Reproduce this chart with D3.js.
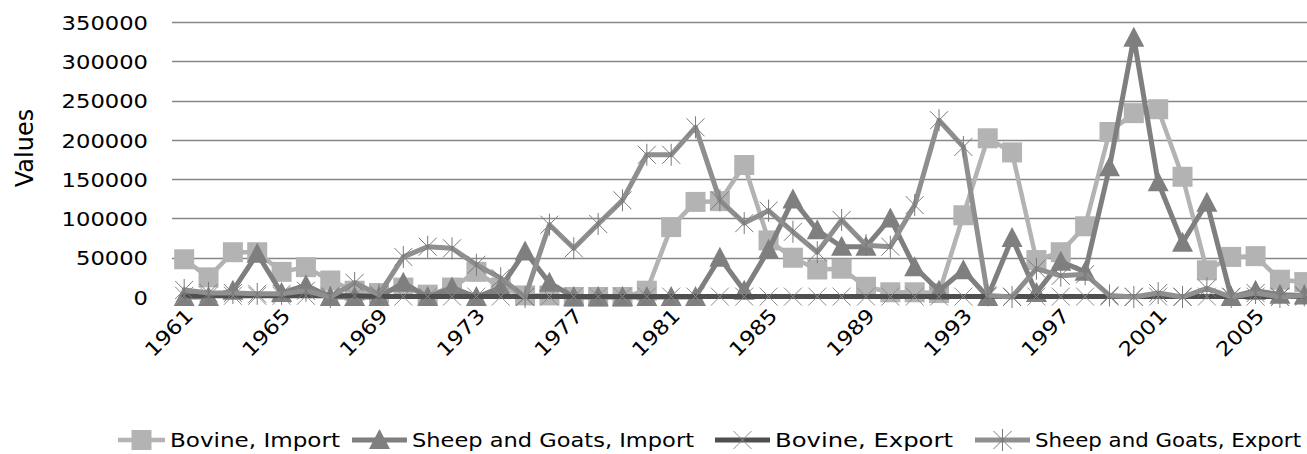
<!DOCTYPE html>
<html>
<head>
<meta charset="utf-8">
<script src="https://cdn.jsdelivr.net/npm/d3@7"></script>
<style>
  html, body { margin: 0; padding: 0; background: #fff; }
  svg { display: block; }
  text { font-family: "DejaVu Sans", sans-serif; fill: #000; }
</style>
</head>
<body>
<svg id="chart" width="1307" height="454"></svg>
<script>
const years = [1961,1962,1963,1964,1965,1966,1967,1968,1969,1970,
  1971,1972,1973,1974,1975,1976,1977,1978,1979,1980,
  1981,1982,1983,1984,1985,1986,1987,1988,1989,1990,
  1991,1992,1993,1994,1995,1996,1997,1998,1999,2000,
  2001,2002,2003,2004,2005,2006,2007];
const tickYears = [1961,1965,1969,1973,1977,1981,1985,1989,1993,1997,2001,2005];
const yTicks = [0,50000,100000,150000,200000,250000,300000,350000];

const bovineImport = [48000,25000,57000,57000,32000,38000,21000,8000,5000,12000,
  3000,12000,32000,12000,2000,2000,0,0,0,8000,
  89000,121000,122000,168000,72000,50000,35000,36000,13000,6000,
  6000,5000,104000,202000,184000,47000,57000,90000,210000,234000,
  239000,153000,34000,51000,52000,22000,19000];
const sheepImport = [0,0,8000,55000,5000,15000,0,0,0,18000,
  0,12000,0,12000,58000,18000,0,0,0,0,
  0,0,50000,8000,60000,124000,85000,64000,64000,100000,
  38000,8000,34000,0,75000,5000,45000,32000,165000,330000,
  146000,69000,120000,0,8000,3000,2000];
const bovineExport = [1500,1500,1500,1500,1500,1500,1500,1500,500,500,
  500,500,500,500,500,500,500,500,500,500,
  500,500,500,500,500,500,500,500,500,500,
  500,500,500,500,500,500,500,500,500,500,
  500,500,500,500,500,500,500];
const sheepExport = [9000,5000,5000,4000,4000,8000,0,18000,3000,51000,
  64000,62000,41000,24000,0,92000,62000,93000,123000,181000,
  181000,216000,123000,94000,110000,83000,57000,98000,66000,64000,
  117000,225000,191000,2000,0,36000,27000,29000,2000,0,
  5000,0,11000,0,5000,0,2000];

const seriesNames = ["Bovine, Import","Sheep and Goats,  Import","Bovine, Export","Sheep and Goats,  Export"];

const series = [
  {name: seriesNames[0], values: bovineImport, color: "#b3b3b3", width: 4.5, marker: "square"},
  {name: seriesNames[1], values: sheepImport, color: "#7f7f7f", width: 5, marker: "triangle"},
  {name: seriesNames[2], values: bovineExport, color: "#4f4f4f", width: 5, marker: "x"},
  {name: seriesNames[3], values: sheepExport, color: "#8f8f8f", width: 5, marker: "star"}
];

const svg = d3.select("#chart");
const step = 24.35;
const x = d3.scaleBand().domain(years).range([172, 172 + years.length * step]);
const cx = d => x(d) + x.bandwidth() / 2;
const y = d3.scaleLinear().domain([0, 350000]).range([297, 22]);

// gridlines
svg.append("g").selectAll("line").data(yTicks.filter(t => t > 0)).join("line")
  .attr("x1", 172).attr("x2", 1307)
  .attr("y1", d => Math.round(y(d)) + 0.5).attr("y2", d => Math.round(y(d)) + 0.5)
  .attr("stroke", "#878787").attr("stroke-width", 1.6);

// y axis
const yAxis = d3.axisLeft(y).tickValues(yTicks).tickSize(0).tickPadding(0).tickFormat(d3.format("d"));
const gy = svg.append("g").attr("transform", "translate(148,0)").call(yAxis);
gy.select(".domain").remove();
gy.selectAll("text").attr("font-size", 20).attr("font-family", "DejaVu Sans").attr("fill", "#000")
  .attr("dy", "0.36em")
  .each(function(d) {
    const s = String(d);
    d3.select(this).attr("textLength", s.length * 14.4).attr("lengthAdjust", "spacingAndGlyphs");
  });

svg.append("text").attr("transform", "translate(33,148) rotate(-90)")
  .attr("text-anchor", "middle").attr("font-size", 24).text("Values");

// x axis
const xAxis = d3.axisBottom(x).tickValues(tickYears).tickSize(0).tickPadding(0);
const gx = svg.append("g").attr("transform", "translate(0,0)").call(xAxis);
gx.select(".domain").remove();
gx.selectAll(".tick text")
  .attr("font-size", 20).attr("font-family", "DejaVu Sans").attr("fill", "#000")
  .attr("y", 0).attr("dy", 0)
  .attr("text-anchor", "end")
  .attr("transform", "translate(10,317) rotate(-45)")
  .attr("textLength", 58).attr("lengthAdjust", "spacingAndGlyphs");

function drawMarker(g, type, color) {
  if (type === "square") {
    g.append("rect").attr("x", -10).attr("y", -10).attr("width", 20).attr("height", 20).attr("fill", color);
  } else if (type === "triangle") {
    g.append("path").attr("d", "M0,-11 L10.5,9 L-10.5,9 Z").attr("fill", color);
  } else if (type === "x") {
    g.append("path").attr("d", "M-9,-9 L9,9 M-9,9 L9,-9").attr("stroke", "#8c8c8c").attr("stroke-width", 1).attr("fill", "none");
  } else if (type === "star") {
    g.append("path").attr("d", "M-9,-9 L9,9 M-9,9 L9,-9 M0,-11 L0,11").attr("stroke", "#7a7a7a").attr("stroke-width", 1).attr("fill", "none");
  }
}

const line = d3.line().x((d, i) => cx(years[i])).y(d => y(d));
const plot = svg.append("g");
series.forEach(s => {
  const g = plot.append("g");
  g.append("path").datum(s.values).attr("d", line)
    .attr("fill", "none").attr("stroke", s.color).attr("stroke-width", s.width)
    .attr("stroke-linejoin", "round").attr("stroke-linecap", "round");
  s.values.forEach((v, i) => {
    const m = g.append("g").attr("transform", `translate(${cx(years[i])},${y(v)})`);
    drawMarker(m, s.marker, s.color);
  });
});

// legend
const legendItems = [
  {x0: 118, x1: 165, tx: 170, len: 170},
  {x0: 352, x1: 407, tx: 412, len: 282},
  {x0: 715, x1: 770, tx: 775, len: 178},
  {x0: 975, x1: 1030, tx: 1035, len: 266}
];
const lg = svg.append("g");
series.forEach((s, i) => {
  const it = legendItems[i];
  const ly = 440;
  lg.append("line").attr("x1", it.x0).attr("x2", it.x1).attr("y1", ly).attr("y2", ly)
    .attr("stroke", s.color).attr("stroke-width", s.width);
  const m = lg.append("g").attr("transform", `translate(${(it.x0 + it.x1) / 2},${ly})`);
  drawMarker(m, s.marker, s.color);
  lg.append("text").attr("x", it.tx).attr("y", ly).attr("dy", "0.35em")
    .attr("font-size", 20).attr("textLength", it.len).attr("lengthAdjust", "spacingAndGlyphs")
    .text(s.name);
});
</script>
</body>
</html>
